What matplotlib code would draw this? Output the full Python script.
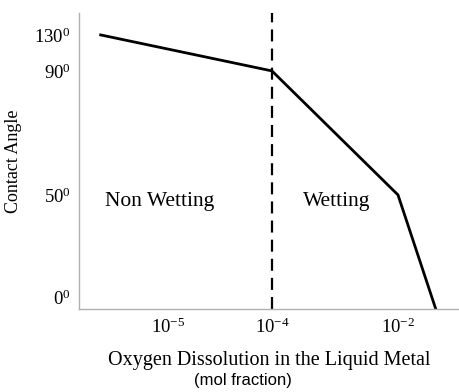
import matplotlib
matplotlib.use("Agg")
import matplotlib.pyplot as plt
import numpy as np

plt.rcParams['font.family'] = 'serif'
plt.rcParams['font.serif'] = ['Liberation Serif', 'DejaVu Serif']
plt.rcParams['mathtext.fontset'] = 'custom'
plt.rcParams['mathtext.rm'] = 'Liberation Serif'
plt.rcParams['mathtext.it'] = 'Liberation Serif:italic'

# schematic curve: log10 of oxygen mol fraction vs contact angle (deg)
log_oxygen = [-5.65, -4.0, -2.0, -1.4]
contact_angle = [130, 90, 50, -6]

x_ticks = [-5, -4, -2]
x_labels = [r'$\mathregular{10^{-5}}$', r'$\mathregular{10^{-4}}$', r'$\mathregular{10^{-2}}$']
y_ticks = [0, 50, 90, 130]
y_labels = [r'$\mathregular{0^{0}}$', r'$\mathregular{50^{0}}$',
            r'$\mathregular{90^{0}}$', r'$\mathregular{130^{0}}$']
boundary = -4.0

# the original axes are not linear: piecewise scales through the tick marks
x_anchor = np.array([-5.86, -5, -4, -2, -1.03])
x_pos = np.array([0, 89, 193, 319, 380])
y_anchor = np.array([-6, 0, 50, 90, 130, 154])
y_pos = np.array([0, 12, 114, 238, 274, 296])


def fwd_x(v):
    return np.interp(v, x_anchor, x_pos)


def inv_x(p):
    return np.interp(p, x_pos, x_anchor)


def fwd_y(v):
    return np.interp(v, y_anchor, y_pos)


def inv_y(p):
    return np.interp(p, y_pos, y_anchor)


fig = plt.figure(figsize=(4.59, 3.92), dpi=100)
ax = fig.add_axes([0.172, 0.212, 0.828, 0.755])
ax.set_xscale('function', functions=(fwd_x, inv_x))
ax.set_yscale('function', functions=(fwd_y, inv_y))

ax.plot(log_oxygen, contact_angle, color='black', lw=2.0, solid_joinstyle='miter')
ax.axvline(boundary, color='black', lw=1.6, linestyle=(0, (5.4, 3.2)))

ax.set_xlim(x_anchor[0], x_anchor[-1])
ax.set_ylim(y_anchor[0], y_anchor[-1])

ax.set_xticks(x_ticks)
ax.set_xticklabels(x_labels, fontsize=13.5)
ax.set_yticks(y_ticks)
ax.set_yticklabels(y_labels, fontsize=13.5)
ax.tick_params(length=0, pad=6)
ax.minorticks_off()

for s in ['top', 'right']:
    ax.spines[s].set_visible(False)
for s in ['left', 'bottom']:
    ax.spines[s].set_color('#b0b0b0')
    ax.spines[s].set_linewidth(1.0)

ax.text(-5.61, 47, 'Non Wetting', fontsize=15.5, va='center', ha='left')
ax.text(-2.97, 47, 'Wetting', fontsize=15.5, va='center', ha='center')

ax.set_ylabel('Contact Angle', fontsize=13, labelpad=9)
ax.set_xlabel('Oxygen Dissolution in the Liquid Metal', fontsize=14.5, labelpad=10)
fig.text(0.53, 0.03, '(mol fraction)', fontsize=12, ha='center', va='center',
         family=['Liberation Sans', 'DejaVu Sans'])

fig.savefig('out.png', dpi=100)
